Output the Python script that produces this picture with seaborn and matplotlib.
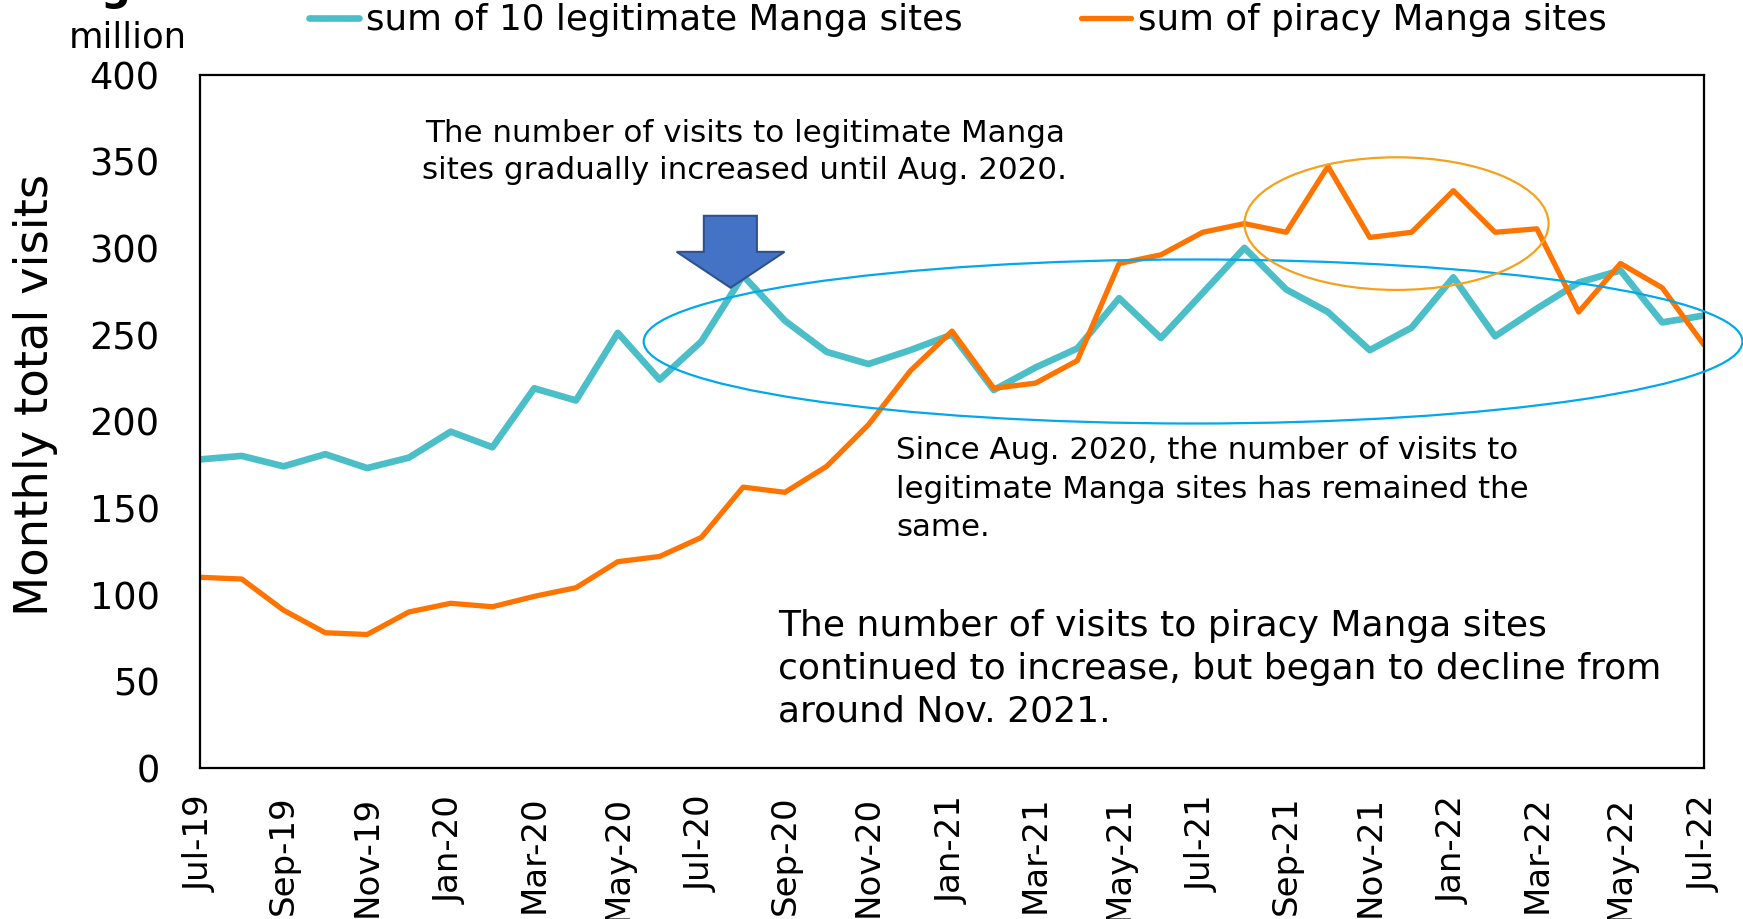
import matplotlib
matplotlib.use("Agg")
import matplotlib.pyplot as plt
from matplotlib.patches import Ellipse, Polygon
import seaborn as sns
import pandas as pd

# monthly visits, million (Jul-19 .. Jul-22)
legit_visits = [178, 180, 174, 181, 173, 179, 194, 185, 219, 212, 251, 224, 246, 284,
                258, 240, 233, 241, 250, 218, 231, 242, 271, 248, 274, 300, 276, 263,
                241, 254, 283, 249, 265, 280, 287, 257, 261]
piracy_visits = [110, 109, 91, 78, 77, 90, 95, 93, 99, 104, 119, 122, 133, 162,
                 159, 174, 198, 229, 252, 219, 222, 235, 291, 296, 309, 314, 309, 347,
                 306, 309, 333, 309, 311, 263, 291, 277, 244]
tick_labels = ["Jul-19", "Sep-19", "Nov-19", "Jan-20", "Mar-20", "May-20", "Jul-20",
               "Sep-20", "Nov-20", "Jan-21", "Mar-21", "May-21", "Jul-21", "Sep-21",
               "Nov-21", "Jan-22", "Mar-22", "May-22", "Jul-22"]
y_ticks = [0, 50, 100, 150, 200, 250, 300, 350, 400]

legit_name = "sum of 10 legitimate Manga sites"
piracy_name = "sum of piracy Manga sites"

df = pd.DataFrame({"month": range(len(legit_visits)),
                   "legit": legit_visits, "piracy": piracy_visits})

sns.set_style("white")
plt.rcParams["font.family"] = ["DejaVu Sans"]
plt.rcParams["text.color"] = "black"

W, H = 1743, 919
fig = plt.figure(figsize=(W / 100, H / 100), dpi=100)
ax = fig.add_axes([200 / W, 1 - 768 / H, 1504 / W, 693.5 / H])

sns.lineplot(data=df, x="month", y="legit", ax=ax, color="#4BBEC8", lw=4.8,
             label=legit_name)
sns.lineplot(data=df, x="month", y="piracy", ax=ax, color="#FF7300", lw=3.8,
             label=piracy_name)

ax.set_xlim(0, len(legit_visits) - 1)
ax.set_ylim(0, 400)
ax.set_xticks(range(0, len(legit_visits), 2))
ax.set_xticklabels(tick_labels, rotation=90)
ax.set_yticks(y_ticks)
ax.set_xlabel("")
ax.set_ylabel("")
ax.tick_params(axis="both", direction="in", length=9, width=1.2, color="black",
               labelcolor="black")
ax.tick_params(axis="y", pad=29, labelsize=26.5)
ax.tick_params(axis="x", pad=20, labelsize=24.5)
for sp in ax.spines.values():
    sp.set_visible(True)
    sp.set_color("black")
    sp.set_linewidth(1.6)

# legend across the top
leg = ax.legend(loc="center left", bbox_to_anchor=(309 / W, 1 - 20 / H),
                bbox_transform=fig.transFigure, ncol=2, frameon=False,
                fontsize=25.7, handlelength=1.4, handletextpad=0.2,
                columnspacing=3.3, borderpad=0, borderaxespad=0)

# highlight ellipses
ax.add_patch(Ellipse((23.77, 246), 26.3, 94.6, fill=False, ec="#00A8EC", lw=1.6,
                     clip_on=False, zorder=5))
ax.add_patch(Ellipse((28.64, 314), 7.28, 76.5, fill=False, ec="#F5A11C", lw=1.6,
                     clip_on=False, zorder=5))

# block arrow pointing at the Aug-20 peak
tip_x, tip_y = 12.7, 277
arrow = Polygon([(tip_x - 0.64, 318.5), (tip_x + 0.63, 318.5), (tip_x + 0.63, 297.7),
                 (tip_x + 1.29, 297.7), (tip_x, tip_y), (tip_x - 1.29, 297.7),
                 (tip_x - 0.64, 297.7)], closed=True, fc="#4472C4", ec="#2F528F",
                lw=1.5, zorder=6)
ax.add_patch(arrow)

# annotations
fig.text(745 / W, 1 - 152 / H,
         "The number of visits to legitimate Manga\nsites gradually increased until Aug. 2020.",
         ha="center", va="center", fontsize=22.3, linespacing=1.32)
fig.text(896 / W, 1 - 489 / H,
         "Since Aug. 2020, the number of visits to\nlegitimate Manga sites has remained the\nsame.",
         ha="left", va="center", fontsize=22.2, linespacing=1.4)
fig.text(778 / W, 1 - 669 / H,
         "The number of visits to piracy Manga sites\ncontinued to increase, but began to decline from\naround Nov. 2021.",
         ha="left", va="center", fontsize=26, linespacing=1.33)

fig.text(36 / W, 1 - 395 / H, "Monthly total visits", rotation=90,
         ha="center", va="center", fontsize=33.5)
fig.text(128 / W, 1 - 37 / H, "million", ha="center", va="center", fontsize=25.5)
# cropped title glyph at the very top
fig.text(115 / W, 1.0, "g", ha="center", va="baseline", fontsize=30,
         fontweight="bold")

fig.savefig("out.png", dpi=100)
